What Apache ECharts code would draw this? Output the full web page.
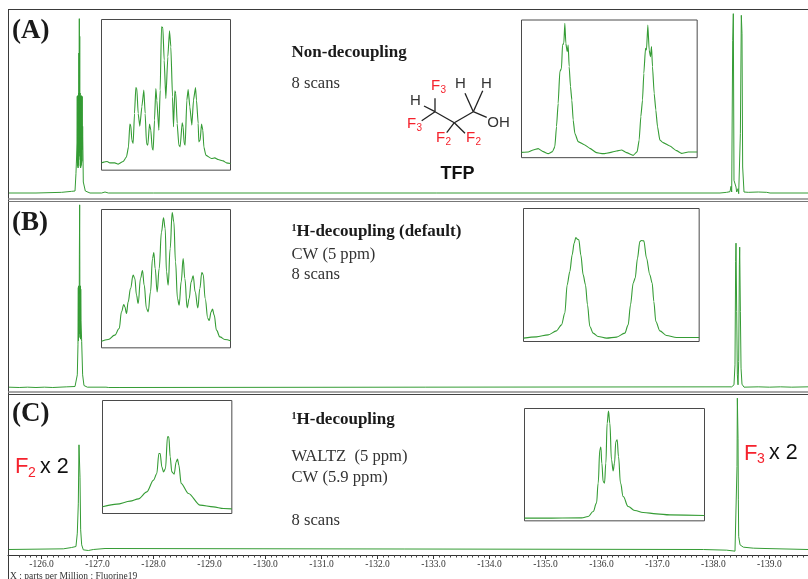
<!DOCTYPE html>
<html><head><meta charset="utf-8">
<style>html,body{margin:0;padding:0;background:#fff}#c{width:808px;height:579px;overflow:hidden}</style>
<script src="https://cdn.jsdelivr.net/npm/echarts@6/dist/echarts.min.js"></script>
</head><body><div id="c"></div>
<script>
// Main spectra: [ppm, intensity]
const spectrumA = [[-125.4,0],[-125.9,0],[-126.358,2],[-126.537,5],[-126.597,6],[-126.614,58],[-126.628,120],[-126.634,150],[-126.637,290],[-126.640,90],[-126.643,292],[-126.646,80],[-126.649,285],[-126.652,75],[-126.655,290],[-126.658,85],[-126.661,300],[-126.664,100],[-126.667,420],[-126.670,120],[-126.674,523],[-126.678,130],[-126.681,470],[-126.684,110],[-126.688,300],[-126.691,80],[-126.694,290],[-126.697,75],[-126.700,288],[-126.703,80],[-126.706,290],[-126.709,85],[-126.712,292],[-126.715,90],[-126.718,288],[-126.721,95],[-126.724,290],[-126.728,130],[-126.733,200],[-126.745,33],[-126.781,6],[-126.865,0],[-127.073,0],[-127.133,3],[-127.192,0],[-128.0,0],[-138.118,0],[-138.237,2],[-138.297,4],[-138.315,20],[-138.327,3],[-138.345,458],[-138.356,538],[-138.368,38],[-138.404,18],[-138.416,3],[-138.440,13],[-138.452,-2],[-138.476,-7],[-138.482,178],[-138.499,533],[-138.511,478],[-138.523,78],[-138.547,3],[-138.624,2],[-138.803,3],[-138.952,2],[-139.012,0],[-139.69,0]];
const spectrumB = [[-125.4,1],[-125.6,0],[-125.75,1],[-125.9,0],[-126.05,1],[-126.2,0],[-126.45,2],[-126.597,3],[-126.614,8],[-126.638,38],[-126.650,128],[-126.656,300],[-126.659,140],[-126.662,305],[-126.665,150],[-126.668,290],[-126.671,160],[-126.675,400],[-126.680,548],[-126.684,280],[-126.687,300],[-126.690,150],[-126.693,305],[-126.696,145],[-126.699,295],[-126.704,200],[-126.716,138],[-126.733,38],[-126.757,6],[-126.817,1],[-127.15,1],[-127.2,0],[-127.4,0],[-138.327,2],[-138.368,8],[-138.386,68],[-138.398,378],[-138.404,433],[-138.416,228],[-138.428,38],[-138.440,8],[-138.452,78],[-138.464,368],[-138.470,421],[-138.482,228],[-138.494,58],[-138.511,10],[-138.547,1],[-138.8,2],[-139.0,1],[-139.2,2],[-139.4,1],[-139.69,2]];
const spectrumC = [[-125.4,0],[-126.388,2],[-126.537,6],[-126.614,9],[-126.638,49],[-126.656,139],[-126.668,314],[-126.674,314],[-126.686,217],[-126.698,59],[-126.716,14],[-126.745,-1],[-126.835,-3],[-126.924,0],[-127.133,3],[-127.162,0],[-137.821,0],[-138.237,-2],[-138.386,-5],[-138.410,-5],[-138.422,249],[-138.428,454],[-138.440,334],[-138.446,149],[-138.452,39],[-138.476,14],[-138.535,7],[-138.714,4],[-138.922,3],[-138.952,0],[-139.69,0]];

// Inset spectra: [relative shift, intensity]
const insetA1 = [[0,22],[7,24],[17,26],[25,22],[40,22],[50,18],[65,26],[75,40],[81,70],[85,138],[88,134],[91,90],[95,80],[99,170],[103,248],[106,245],[110,170],[115,132],[121,190],[127,240],[131,170],[135,80],[139,75],[144,138],[148,120],[152,65],[155,60],[159,150],[163,245],[166,210],[172,120],[176,240],[180,430],[184,428],[188,330],[193,215],[199,340],[204,418],[208,370],[213,220],[216,130],[220,238],[223,230],[227,140],[232,75],[236,70],[242,142],[245,130],[248,80],[251,75],[256,210],[260,242],[265,190],[271,135],[276,210],[282,248],[285,210],[290,140],[292,85],[296,90],[300,138],[304,120],[307,70],[313,45],[330,35],[340,37],[350,32],[365,28],[375,22],[387,20]];
const insetA2 = [[0,16],[20,17],[35,23],[50,27],[65,18],[80,12],[93,18],[100,33],[105,93],[110,163],[115,258],[120,268],[123,338],[127,343],[130,403],[133,343],[137,318],[140,338],[143,273],[147,213],[151,173],[155,113],[160,73],[170,48],[190,38],[205,28],[225,15],[245,12],[265,15],[285,20],[300,23],[315,15],[335,7],[347,18],[353,53],[358,123],[363,173],[367,253],[372,328],[375,323],[379,398],[383,323],[387,303],[390,333],[393,273],[398,193],[403,143],[408,93],[415,53],[425,45],[445,35],[465,21],[480,13],[500,17],[527,17]];
const insetB1 = [[0,20],[20,25],[40,38],[53,58],[60,108],[67,130],[70,123],[75,103],[80,138],[87,178],[95,218],[100,208],[105,158],[110,133],[117,208],[123,232],[128,188],[135,118],[140,108],[147,168],[153,268],[157,286],[161,238],[167,168],[173,238],[180,348],[186,390],[191,358],[195,228],[200,188],[206,298],[212,406],[217,378],[222,258],[228,148],[233,128],[239,198],[245,268],[250,208],[257,120],[263,148],[269,198],[275,216],[281,168],[289,120],[295,178],[301,226],[305,220],[311,148],[319,88],[323,82],[329,108],[333,116],[338,98],[345,53],[355,33],[370,25],[387,21]];
const insetB2 = [[0,10],[39,14],[74,20],[99,32],[114,50],[124,85],[131,170],[139,210],[146,260],[152,295],[157,312],[161,307],[166,305],[172,260],[179,200],[186,170],[192,110],[199,45],[209,25],[224,15],[249,10],[279,13],[304,25],[314,50],[321,110],[329,175],[335,190],[342,250],[349,300],[354,303],[361,302],[369,250],[379,200],[386,175],[391,120],[397,60],[409,32],[429,18],[459,12],[527,12]];
const insetC1 = [[0,20],[43,28],[83,37],[108,44],[133,65],[153,100],[163,120],[169,180],[173,180],[178,140],[183,125],[189,135],[195,230],[199,230],[203,170],[208,125],[215,118],[221,155],[225,163],[229,145],[236,90],[258,60],[293,25],[333,20],[363,15],[388,14]];
const insetC2 = [[0,8],[56,8],[171,9],[191,13],[206,28],[216,53],[221,113],[226,213],[229,221],[232,173],[236,118],[240,113],[244,173],[248,293],[252,329],[256,293],[261,183],[266,150],[270,173],[274,238],[278,243],[282,193],[288,113],[296,73],[311,43],[331,31],[356,25],[396,21],[436,18],[540,16]];

// Axis ticks
const tickLabels = [-126,-127,-128,-129,-130,-131,-132,-133,-134,-135,-136,-137,-138,-139];
const minorTicks = [];
for (let t = -1256; t >= -1396; t--) minorTicks.push(t / 10);

const GREEN = '#359c35';
const XMIN = -139.69, XMAX = -125.4;

const mains = [
  {data: spectrumA, top: 10, h: 188, min: -15, max: 549},
  {data: spectrumB, top: 203, h: 188, min: -10.5, max: 553.5},
  {data: spectrumC, top: 395, h: 160, min: -16.5, max: 463.5}
];
const insets = [
  {data: insetA1, l: 101.5, t: 19.5, w: 387, h: 452, s: 0.15},
  {data: insetA2, l: 521.5, t: 20,   w: 527, h: 413, s: 0.15},
  {data: insetB1, l: 101.5, t: 209.5,w: 387, h: 415, s: 0.4},
  {data: insetB2, l: 523.5, t: 208.5,w: 527, h: 399, s: 0.3},
  {data: insetC1, l: 102.5, t: 400.5,w: 388, h: 339, s: 0.3},
  {data: insetC2, l: 524.5, t: 408.5,w: 540, h: 337, s: 0.4}
];

const grid = [], xAxis = [], yAxis = [], series = [];
mains.forEach((m, i) => {
  grid.push({left: 8, width: 800, top: m.top, height: m.h});
  xAxis.push({type: 'value', gridIndex: i, inverse: true, min: XMIN, max: XMAX, show: false});
  yAxis.push({type: 'value', gridIndex: i, min: m.min, max: m.max, show: false});
  series.push({type: 'line', xAxisIndex: i, yAxisIndex: i, data: m.data, showSymbol: false, silent: true,
    lineStyle: {color: GREEN, width: 1}, z: 3});
});
insets.forEach((b, k) => {
  const i = k + 3;
  grid.push({left: b.l, top: b.t, width: b.w / 3, height: b.h / 3, show: true, borderColor: '#4a4a4a', borderWidth: 1, backgroundColor: '#fff', z: 1});
  xAxis.push({type: 'value', gridIndex: i, min: 0, max: b.w, show: false});
  yAxis.push({type: 'value', gridIndex: i, min: 0, max: b.h, show: false});
  series.push({type: 'line', xAxisIndex: i, yAxisIndex: i, data: b.data, showSymbol: false, silent: true,
    smooth: b.s, smoothMonotone: 'x', lineStyle: {color: GREEN, width: 1.1}, z: 4});
});
// Visible ppm axis on the panel C grid: minor ticks + major ticks with labels
xAxis.push({type: 'value', gridIndex: 2, inverse: true, min: XMIN, max: XMAX, position: 'bottom',
  axisLine: {show: true, onZero: false, lineStyle: {color: '#333', width: 1}},
  axisTick: {show: true, length: 2.5, inside: false, customValues: minorTicks, lineStyle: {color: '#444'}},
  axisLabel: {show: false}, splitLine: {show: false}});
xAxis.push({type: 'value', gridIndex: 2, inverse: true, min: XMIN, max: XMAX, position: 'bottom',
  axisLine: {show: false, onZero: false},
  axisTick: {show: true, length: 4, customValues: tickLabels, lineStyle: {color: '#333'}},
  axisLabel: {show: true, customValues: tickLabels, margin: 4, color: '#333', fontFamily: 'Liberation Serif', fontSize: 9.5,
    formatter: v => v.toFixed(1)},
  splitLine: {show: false}});

const serif = 'Liberation Serif', sans = 'Liberation Sans';
function txt(x, y, text, font, fill, align, extra) {
  return {type: 'text', x, y, z: 10, silent: true,
    style: Object.assign({text, font, fill: fill || '#1a1a1a', textAlign: align || 'left', textVerticalAlign: 'middle'}, extra || {})};
}
function seg(x1, y1, x2, y2, color, w) {
  return {type: 'line', z: 5, silent: true, shape: {x1, y1, x2, y2}, style: {stroke: color, lineWidth: w || 1}};
}
const bold17 = 'bold 17px "' + serif + '"', reg = '16.6px "' + serif + '"';
const head = 'bold 27px "' + serif + '"';
const supRich = {
  sup: {font: 'bold 10px "' + serif + '"', fill: '#1a1a1a', verticalAlign: 'top', padding: [0, 0, 6, 0]},
  b: {font: bold17, fill: '#1a1a1a'}
};
const RED = '#f5222d';
const mol = '15px "' + sans + '"';
const graphic = [
  // frames
  seg(8, 9.5, 808, 9.5, '#3a3a3a'),
  seg(8.5, 9, 8.5, 579, '#3a3a3a'),
  seg(8, 199, 808, 199, '#8a8a8a', 1.5),
  seg(8, 201.5, 808, 201.5, '#777'),
  seg(8, 392, 808, 392, '#8a8a8a', 1.5),
  seg(8, 394.5, 808, 394.5, '#444'),
  // panel labels
  txt(12, 31, '(A)', head), txt(12, 223.5, '(B)', head), txt(12, 414.5, '(C)', head),
  txt(291.5, 53, 'Non-decoupling', bold17),
  txt(291.5, 83.5, '8 scans', reg, '#333'),
  {type: 'text', x: 291.5, y: 231.5, z: 10, silent: true, style: {text: '{sup|1}{b|H-decoupling (default)}', rich: supRich, textVerticalAlign: 'middle'}},
  txt(291.5, 254.5, 'CW (5 ppm)', reg, '#333'),
  txt(291.5, 274.5, '8 scans', reg, '#333'),
  {type: 'text', x: 291.5, y: 419.5, z: 10, silent: true, style: {text: '{sup|1}{b|H-decoupling}', rich: supRich, textVerticalAlign: 'middle'}},
  txt(291.5, 457, 'WALTZ  (5 ppm)', reg, '#333'),
  txt(291.5, 478, 'CW (5.9 ppm)', reg, '#333'),
  txt(291.5, 520.5, '8 scans', reg, '#333'),
  // F2 x 2 / F3 x 2
  txt(15, 467, 'F', '22px "' + sans + '"', RED),
  txt(28, 473, '2', '14px "' + sans + '"', RED),
  txt(40, 467, 'x 2', '21.5px "' + sans + '"', '#111'),
  txt(744, 453.5, 'F', '22px "' + sans + '"', RED),
  txt(757, 459.5, '3', '14px "' + sans + '"', RED),
  txt(769, 453.5, 'x 2', '21.5px "' + sans + '"', '#111'),
  // molecule bonds
  seg(435, 111.7, 454.3, 122.7, '#222', 1.3), seg(454.3, 122.7, 473.3, 111.7, '#222', 1.3),
  seg(473.3, 111.7, 486.7, 117.3, '#222', 1.3), seg(435, 111.7, 435, 98.3, '#222', 1.3),
  seg(435, 111.7, 424, 106, '#222', 1.3), seg(435, 111.7, 421.7, 120.7, '#222', 1.3),
  seg(454.3, 122.7, 446.7, 132.7, '#222', 1.3), seg(454.3, 122.7, 465, 133.3, '#222', 1.3),
  seg(473.3, 111.7, 465, 93.3, '#222', 1.3), seg(473.3, 111.7, 482.7, 90.7, '#222', 1.3),
  // molecule atoms
  txt(431, 86, 'F', mol, RED), txt(440.5, 90.5, '3', '10px "' + sans + '"', RED),
  txt(415.5, 100.5, 'H', mol, '#333', 'center'),
  txt(407, 123.5, 'F', mol, RED), txt(416.5, 128, '3', '10px "' + sans + '"', RED),
  txt(436, 138, 'F', mol, RED), txt(445.5, 142.5, '2', '10px "' + sans + '"', RED),
  txt(466, 138, 'F', mol, RED), txt(475.5, 142.5, '2', '10px "' + sans + '"', RED),
  txt(460.5, 84, 'H', mol, '#333', 'center'), txt(486.5, 84, 'H', mol, '#333', 'center'),
  txt(498.5, 122.5, 'OH', mol, '#333', 'center'),
  txt(457.5, 174, 'TFP', 'bold 18px "' + sans + '"', '#111', 'center'),
  // axis caption
  txt(10, 576, 'X : parts per Million : Fluorine19', '9.5px "' + serif + '"', '#333')
];

const chart = echarts.init(document.getElementById('c'), null, {renderer: 'canvas'});
chart.setOption({animation: false, backgroundColor: '#fff', grid, xAxis, yAxis, series, graphic, tooltip: {show: false}});
</script></body></html>
